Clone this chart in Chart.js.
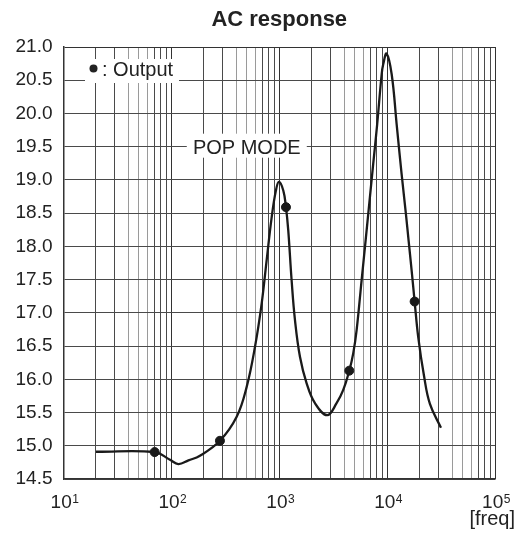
<!DOCTYPE html>
<html>
<head>
<meta charset="utf-8">
<title>AC response</title>
<script src="https://cdn.jsdelivr.net/npm/chart.js@4/dist/chart.umd.min.js"></script>
<style>
  html, body { margin: 0; padding: 0; background: #fff; }
  #wrap { width: 519px; height: 534px; }
</style>
</head>
<body>
<div id="wrap"><canvas id="acChart"></canvas></div>
<script>
// curve (freq in Hz, level)
const curveFreq = [20, 70, 97, 116, 144, 184, 282, 403, 499, 596, 687, 764, 851, 931, 993, 1090, 1154, 1212, 1302, 1399, 1556, 1794, 2143, 2785, 3400, 3920, 4460, 4850, 5215, 5800, 6320, 7430, 8090, 8900, 9200, 9890, 11020, 12250, 13620, 14930, 15810, 16870, 17990, 19410, 21930, 24930, 31560];
const curveLevel = [14.91, 14.905, 14.79, 14.725, 14.78, 14.85, 15.075, 15.435, 15.886, 16.49, 17.14, 17.79, 18.44, 18.84, 18.97, 18.84, 18.59, 18.24, 17.49, 16.89, 16.34, 15.94, 15.64, 15.46, 15.64, 15.84, 16.13, 16.39, 16.74, 17.49, 18.09, 19.24, 19.84, 20.59, 20.74, 20.90, 20.59, 19.84, 19.09, 18.49, 18.09, 17.64, 17.17, 16.64, 16.06, 15.63, 15.27];

// measured "Output" points
const outputFreq = [70, 282, 1154, 4460, 17990];
const outputLevel = [14.905, 15.075, 18.59, 16.13, 17.17];

// decade tick labels and grid values
const decadeValues = [10, 100, 1000, 10000, 100000];
const decadeExp = ['1', '2', '3', '4', '5'];
const xGridValues = [];
for (let e = 1; e <= 4; e++) {
    for (let m = 1; m <= 9; m++) xGridValues.push(m * Math.pow(10, e));
}
xGridValues.push(100000);

const FONT = '"Liberation Sans", Arial, Helvetica, sans-serif';
const DARK = '#4a4a4a';
const LIGHT = '#9a9a9a';
const INK = '#222';

function isDecade(v) {
    const l = Math.log10(v);
    return Math.abs(l - Math.round(l)) < 1e-9;
}

// title, x labels with superscripts, legend and annotation boxes
const notesPlugin = {
    id: 'notes',
    beforeDatasetsDraw(chart) {
        const ctx = chart.ctx;
        const x = chart.scales.x, y = chart.scales.y;
        ctx.save();
        ctx.fillStyle = '#fff';
        ctx.fillRect(85, 59, 94, 24);
        const px = x.getPixelForValue(500), py = y.getPixelForValue(19.5);
        ctx.fillRect(px - 60, py - 13, 120, 24);

        ctx.fillStyle = INK;
        ctx.font = '20px ' + FONT;
        ctx.textBaseline = 'alphabetic';
        ctx.textAlign = 'center';
        ctx.fillText('POP MODE', px, py + 7);

        ctx.beginPath();
        ctx.arc(93.5, 68.5, 4, 0, Math.PI * 2);
        ctx.fill();
        ctx.textAlign = 'left';
        ctx.fillText(': Output', 102, 75.5);
        ctx.restore();
    },
    afterDraw(chart) {
        const ctx = chart.ctx;
        const x = chart.scales.x;
        const area = chart.chartArea;
        ctx.save();
        ctx.fillStyle = INK;
        ctx.textBaseline = 'alphabetic';

        ctx.font = 'bold 22px ' + FONT;
        ctx.textAlign = 'center';
        ctx.fillText('AC response', (area.left + area.right) / 2, 26);

        decadeValues.forEach((v, i) => {
            const cx = x.getPixelForValue(v);
            ctx.font = '19px ' + FONT;
            const w1 = ctx.measureText('10').width;
            ctx.font = '12px ' + FONT;
            const w2 = ctx.measureText(decadeExp[i]).width;
            const left = cx - (w1 + w2) / 2 + 1;
            ctx.textAlign = 'left';
            ctx.font = '19px ' + FONT;
            ctx.fillText('10', left, 507.5);
            ctx.font = '12px ' + FONT;
            ctx.fillText(decadeExp[i], left + w1 + 0.5, 502.5);
        });

        ctx.font = '20px ' + FONT;
        ctx.textAlign = 'right';
        ctx.fillText('[freq]', 515, 525);
        ctx.restore();
    }
};

new Chart(document.getElementById('acChart'), {
    type: 'line',
    data: {
        datasets: [
            {
                label: 'AC response',
                data: curveFreq.map((f, i) => ({ x: f, y: curveLevel[i] })),
                borderColor: '#1a1a1a',
                borderWidth: 2.3,
                pointRadius: 0,
                tension: 0.4,
                fill: false
            },
            {
                label: 'Output',
                type: 'scatter',
                data: outputFreq.map((f, i) => ({ x: f, y: outputLevel[i] })),
                backgroundColor: '#1a1a1a',
                borderColor: '#1a1a1a',
                pointRadius: 4.5,
                showLine: false
            }
        ]
    },
    options: {
        responsive: true,
        maintainAspectRatio: false,
        animation: false,
        layout: { padding: { left: 0, right: 24, top: 47, bottom: 0 } },
        plugins: {
            legend: { display: false },
            tooltip: { enabled: false },
            title: { display: false }
        },
        scales: {
            x: {
                type: 'logarithmic',
                min: 10,
                max: 100000,
                afterBuildTicks(scale) {
                    scale.ticks = xGridValues.map(v => ({ value: v }));
                },
                afterFit(scale) { scale.height = 55; },
                ticks: {
                    autoSkip: false,
                    maxRotation: 0,
                    callback() { return ''; }
                },
                grid: {
                    drawTicks: false,
                    lineWidth: 1,
                    color(ctx) {
                        const v = ctx.tick ? ctx.tick.value : 0;
                        if (isDecade(v)) return '#333';
                        const m = Math.round(v / Math.pow(10, Math.floor(Math.log10(v))));
                        return (m >= 4 && m <= 6) ? LIGHT : DARK;
                    }
                },
                border: { display: true, color: '#333', width: 1.5 }
            },
            y: {
                min: 14.5,
                max: 21,
                afterFit(scale) { scale.width = 63.5; },
                ticks: {
                    stepSize: 0.5,
                    padding: 11,
                    color: INK,
                    font: { family: FONT, size: 19 },
                    callback(value) { return value.toFixed(1); }
                },
                grid: {
                    drawTicks: false,
                    lineWidth: 1,
                    color(ctx) {
                        const v = ctx.tick ? ctx.tick.value : 0;
                        return v === 21 ? '#333' : DARK;
                    }
                },
                border: { display: true, color: '#333', width: 1.5 }
            }
        }
    },
    plugins: [notesPlugin]
});
</script>
</body>
</html>
